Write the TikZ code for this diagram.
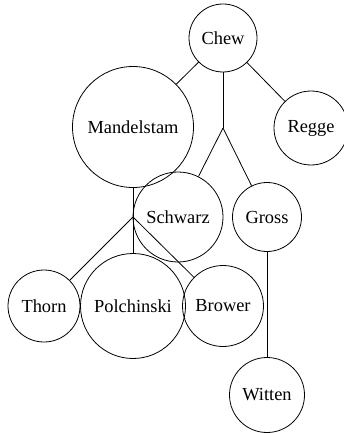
\documentclass[tikz,border=0pt]{standalone}
\usepackage{fontspec}
\setmainfont{Liberation Serif}
\usepackage{tikz}
\tikzstyle{person} = [circle, draw, inner sep=0pt, line width=0.8pt, font=\fontsize{18.4}{22}\selectfont]
\tikzstyle{link} = [line width=0.8pt]

\begin{document}
\begin{tikzpicture}[x=1pt, y=-1pt]
    \useasboundingbox (0,0) rectangle (344,433);

    % People
    \node[person, minimum size=68pt] (chew) at (223,38) {Chew};
    \node[person, minimum size=121pt] (mandelstam) at (133,127) {Mandelstam};
    \node[person, minimum size=74pt] (regge) at (311,128) {Regge};
    \node[person, minimum size=90pt] (schwarz) at (178,217) {Schwarz};
    \node[person, minimum size=69pt] (gross) at (267,217) {Gross};
    \node[person, minimum size=72pt] (thorn) at (44,306) {Thorn};
    \node[person, minimum size=105pt] (polchinski) at (133,306) {Polchinski};
    \node[person, minimum size=81pt] (brower) at (223,306) {Brower};
    \node[person, minimum size=75pt] (witten) at (267,395) {Witten};

    % Forks
    \coordinate (chewfork) at (223,128);
    \coordinate (mandfork) at (133,217);

    % Links
    \draw[link] (chew) -- (mandelstam);
    \draw[link] (chew) -- (regge);
    \draw[link] (chew) -- (chewfork);
    \draw[link] (chewfork) -- (schwarz);
    \draw[link] (chewfork) -- (gross);
    \draw[link] (mandelstam) -- (mandfork);
    \draw[link] (mandfork) -- (thorn);
    \draw[link] (mandfork) -- (polchinski);
    \draw[link] (mandfork) -- (brower);
    \draw[link] (gross) -- (witten);
\end{tikzpicture}
\end{document}
